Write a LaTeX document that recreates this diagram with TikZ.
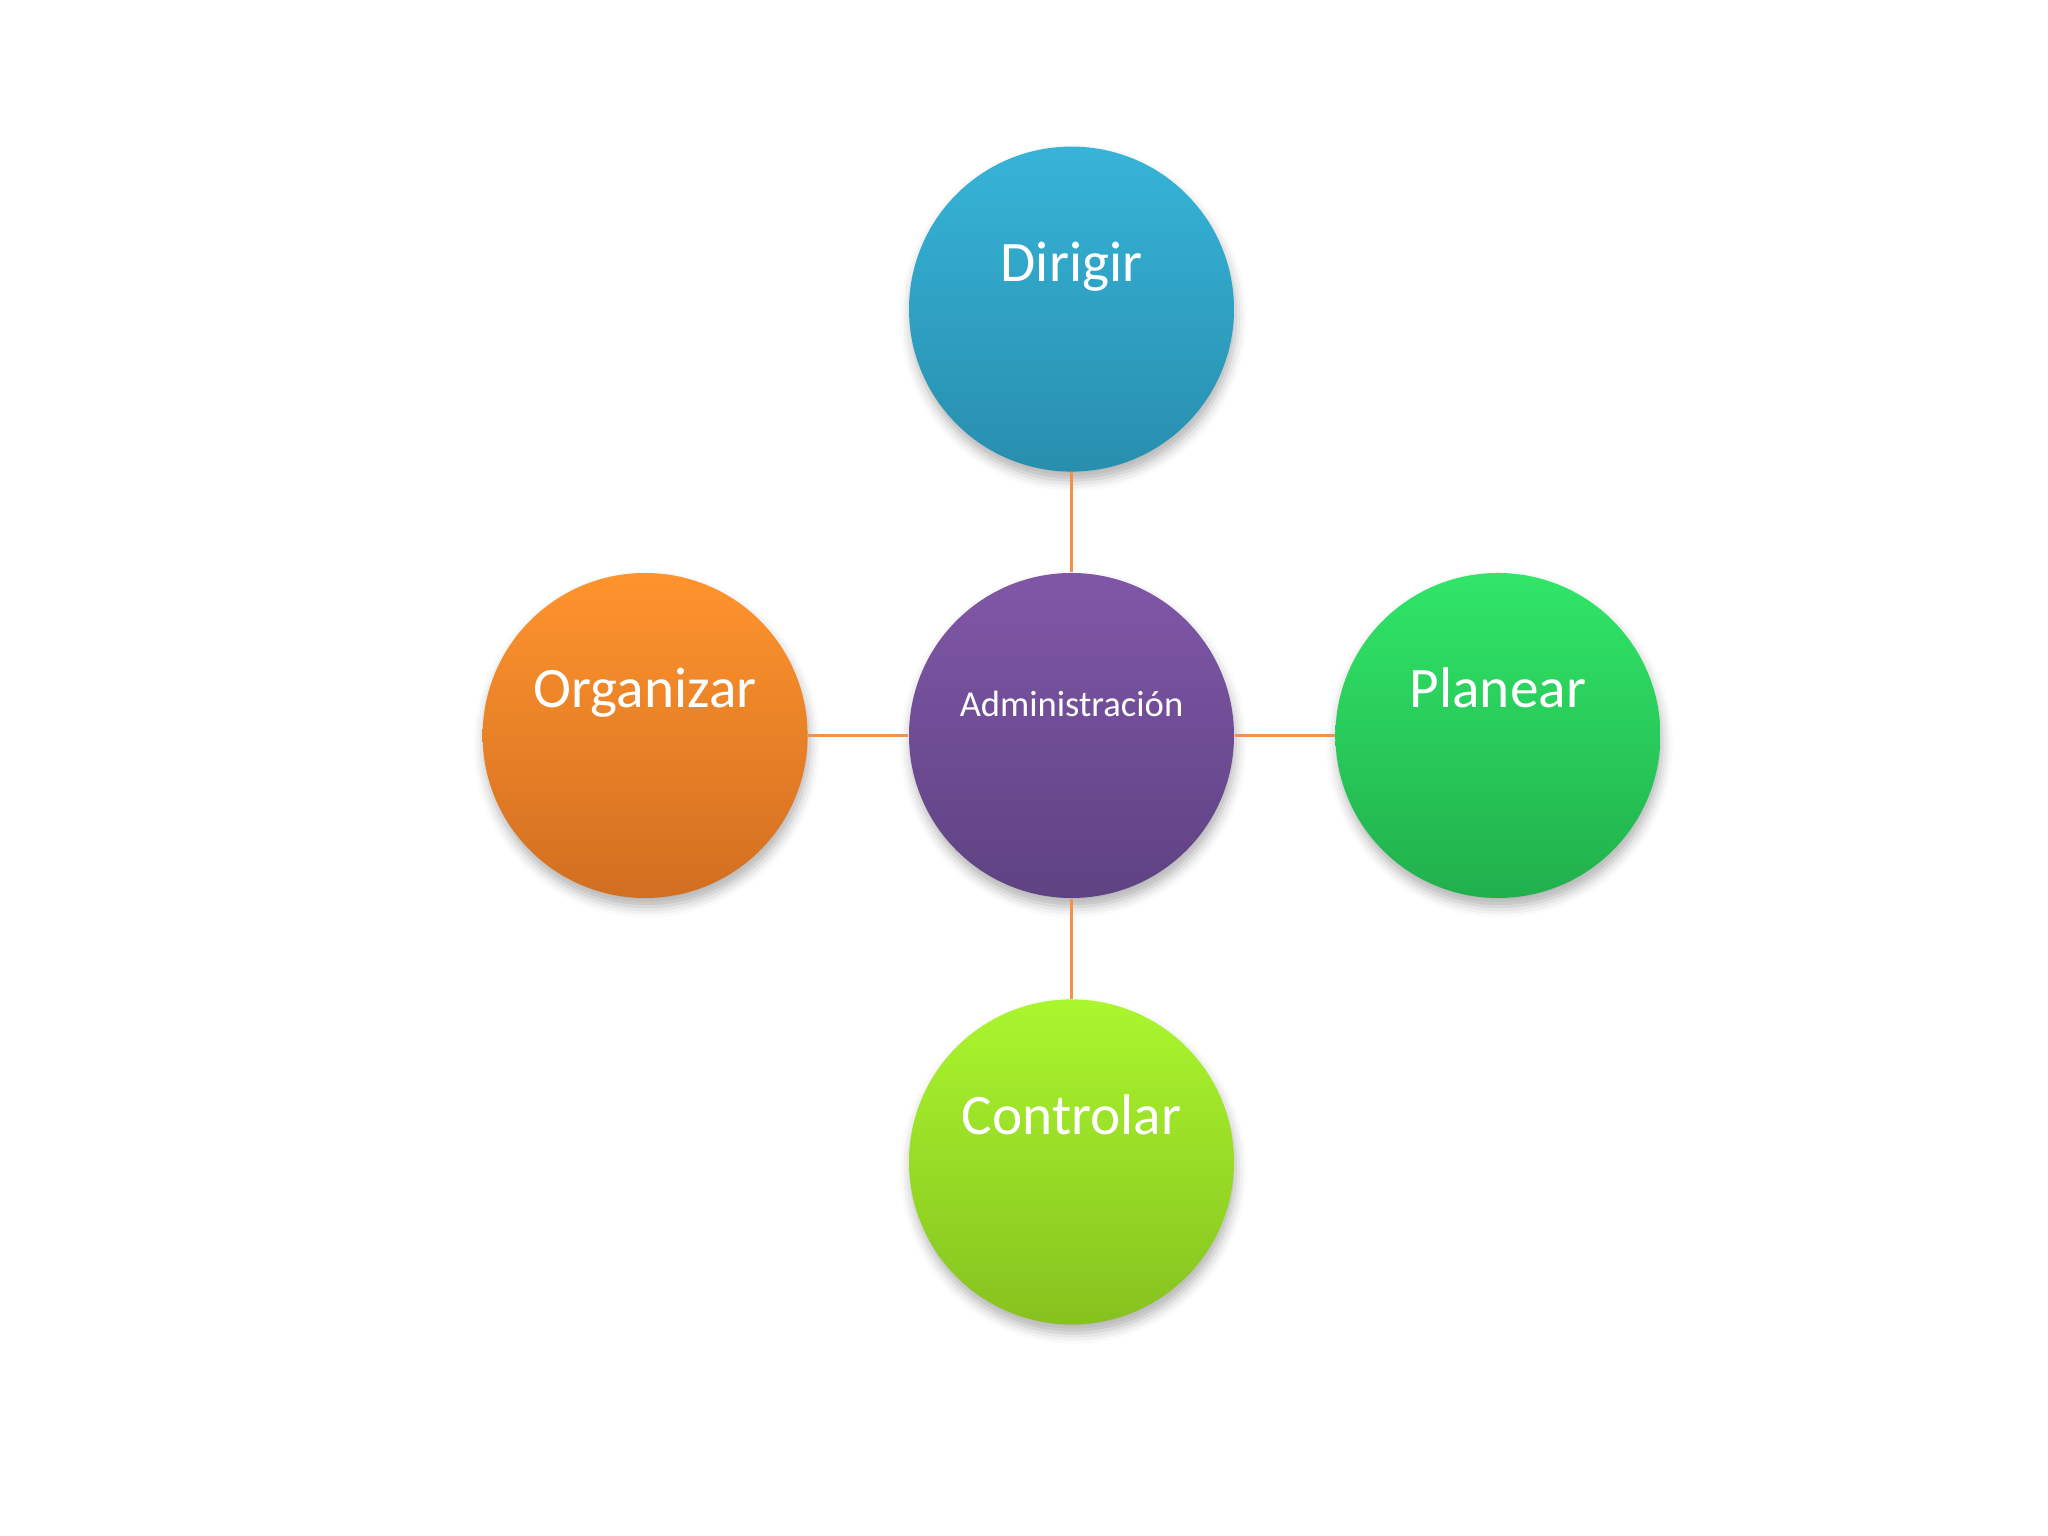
\documentclass[tikz,border=0pt]{standalone}
\usepackage{fontspec}
\setmainfont{Carlito}
\usetikzlibrary{positioning,shadows.blur}
\definecolor{linkorange}{HTML}{F3914A}
\begin{document}
\begin{tikzpicture}[
  node distance=1.0cm,
  ball/.style={circle,minimum size=3.25cm,inner sep=0pt,
    blur shadow={shadow xshift=0.5pt,shadow yshift=-2.5pt,shadow blur radius=3pt,shadow opacity=30}},
  word/.style={label={[text height=0pt,text depth=0pt,yshift=0.275cm,text=white,font=\fontsize{16.3}{19}\selectfont]center:#1}},
  smallword/.style={label={[text height=0pt,text depth=0pt,yshift=0.185cm,text=white,font=\fontsize{10.4}{12}\selectfont]center:#1}},
  link/.style={draw=linkorange,line width=0.7pt}
]
  \useasboundingbox (0,0) rectangle (20.48,15.36);
  \node[ball,top color={rgb,255:red,128;green,87;blue,168},bottom color={rgb,255:red,94;green,66;blue,130},smallword=Administración] (admin) at (10.715,8.005) {};
  \node[ball,top color={rgb,255:red,54;green,180;blue,216},bottom color={rgb,255:red,40;green,142;blue,174},word=Dirigir,above=of admin] (dirigir) {};
  \node[ball,top color={rgb,255:red,255;green,148;blue,46},bottom color={rgb,255:red,210;green,110;blue,32},word=Organizar,left=of admin] (organizar) {};
  \node[ball,top color={rgb,255:red,48;green,230;blue,104},bottom color={rgb,255:red,33;green,176;blue,76},word=Planear,right=of admin] (planear) {};
  \node[ball,top color={rgb,255:red,170;green,246;blue,46},bottom color={rgb,255:red,134;green,194;blue,30},word=Controlar,below=of admin] (controlar) {};
  % connectors
  \draw[link] (admin) -- (dirigir);
  \draw[link] (admin) -- (organizar);
  \draw[link] (admin) -- (planear);
  \draw[link] (admin) -- (controlar);
\end{tikzpicture}
\end{document}
